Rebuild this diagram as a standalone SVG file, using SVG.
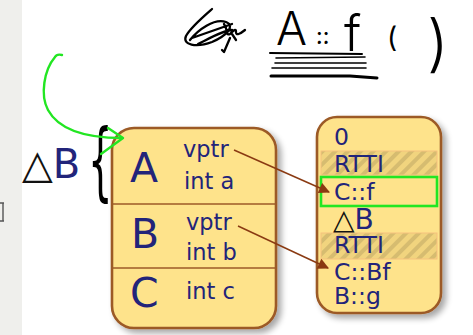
<svg xmlns="http://www.w3.org/2000/svg" width="473" height="335" viewBox="0 0 473 335">
  <defs>
    <style>
      .box { fill: #fee38b; stroke: #9c5a26; stroke-width: 2.6; }
      .div { stroke: #9c5a26; stroke-width: 1.6; }
      .lbl { font-family: "DejaVu Sans", sans-serif; fill: #22247a; }
      .big { font-size: 41px; }
      .fld { font-size: 22.5px; }
      .vt  { font-size: 23.5px; }
      .hand { font-family: "Inter", "Lato", "Liberation Sans", sans-serif; font-weight: 300; fill: #000; }
      .ink { fill: none; stroke: #000; stroke-linecap: round; stroke-linejoin: round; }
      .pen { fill: none; stroke: #22e622; stroke-width: 2.4; stroke-linecap: round; stroke-linejoin: round; }
      .ptr { fill: none; stroke: #8a3a12; stroke-width: 1.5; }
    </style>
    <filter id="shadow" x="-20%" y="-20%" width="140%" height="140%">
      <feGaussianBlur in="SourceAlpha" stdDeviation="3"/>
      <feOffset dx="4" dy="4" result="b"/>
      <feComponentTransfer><feFuncA type="linear" slope="0.35"/></feComponentTransfer>
      <feMerge><feMergeNode/><feMergeNode in="SourceGraphic"/></feMerge>
    </filter>
    <pattern id="hatch" width="9" height="9" patternUnits="userSpaceOnUse" patternTransform="rotate(45)">
      <rect width="9" height="9" fill="#f1d47e"/>
      <rect width="4" height="9" fill="#d6bc70"/>
    </pattern>
    <marker id="arr" viewBox="0 0 10 10" refX="9" refY="5" markerWidth="14" markerHeight="11" orient="auto" markerUnits="userSpaceOnUse">
      <path d="M0,0 L10,5 L0,10 z" fill="#8a3a12"/>
    </marker>
  </defs>

  <rect width="473" height="335" fill="#fff"/>
  <!-- side panel strip with a clipped mark at its edge -->
  <rect x="0" y="0" width="22" height="335" fill="#efefec"/>
  <path d="M0,203 L4,203 M3,203 L3,221 M0,221 L4,221" stroke="#555" stroke-width="1.4" fill="none"/>

  <!-- handwritten annotation -->
  <g id="note">
    <path class="ink" stroke-width="2.3" d="M212,9 C204,16 190,28 186,36 C182,45 196,48 212,42 C226,36 236,26 226,22 C214,18 198,30 190,40 M192,38 L232,24 M198,44 C210,38 224,30 232,30 M224,24 C228,30 226,36 230,34 C234,30 236,28 236,32 C236,36 240,34 245,30 M232,34 L236,40 M230,38 L224,52 L222,50"/>
    <text class="hand">
      <tspan x="276" y="45" font-size="46">A</tspan>
      <tspan x="316" y="44" font-size="22" font-weight="500">::</tspan>
      <tspan x="344" y="51" font-size="50">f</tspan>
      <tspan x="387" y="47" font-size="28" font-weight="400">(</tspan>
      <tspan x="427" y="65" font-size="62">)</tspan>
    </text>
    <path class="ink" stroke-width="2" d="M270,53 L362,54"/>
    <path class="ink" stroke-width="1.6" d="M276,58 L365,57 M275,63 L366,63 M272,68 L366,68"/>
    <path class="ink" stroke-width="3" d="M271,76 L350,76 L377,78"/>
  </g>

  <!-- object layout -->
  <g id="object" filter="url(#shadow)">
    <rect class="box" x="112" y="128" width="164" height="200" rx="22"/>
    <line class="div" x1="113" y1="204" x2="275" y2="204"/>
    <line class="div" x1="113" y1="268" x2="275" y2="268"/>
  </g>
  <g id="obj-text" class="lbl">
    <text class="big" x="130" y="182">A</text>
    <text class="fld" x="183" y="157">vptr</text>
    <text class="fld" x="184" y="189">int a</text>
    <text class="big" x="131" y="248">B</text>
    <text class="fld" x="186" y="230">vptr</text>
    <text class="fld" x="186" y="260">int b</text>
    <text class="big" x="130" y="307">C</text>
    <text class="fld" x="186" y="299">int c</text>
  </g>

  <!-- delta label with brace -->
  <g id="delta">
    <text x="22" y="178" font-family="DejaVu Sans, sans-serif" font-size="40"><tspan fill="#111">△</tspan><tspan fill="#22247a">B</tspan></text>
    <text transform="translate(88,190) scale(0.45,1)" font-family="DejaVu Sans, sans-serif" font-size="86" fill="#000">{</text>
  </g>

  <!-- vtable -->
  <g id="vtable" filter="url(#shadow)">
    <rect class="box" x="317" y="117" width="124" height="196" rx="20"/>
  </g>
  <g id="vtable-rows">
    <rect x="321" y="151" width="116" height="24" fill="url(#hatch)" stroke="#f6c27e" stroke-width="1"/>
    <rect x="321" y="233" width="116" height="26" fill="url(#hatch)" stroke="#f6c27e" stroke-width="1"/>
    <g class="lbl vt">
      <text x="334" y="145">0</text>
      <text x="334" y="172">RTTI</text>
      <text x="334" y="200">C::f</text>
      <text x="333" y="229" font-size="28"><tspan fill="#111">△</tspan>B</text>
      <text x="334" y="253">RTTI</text>
      <text x="334" y="280">C::Bf</text>
      <text x="334" y="304">B::g</text>
    </g>
    <rect x="321" y="177" width="116" height="29" fill="none" stroke="#22e622" stroke-width="2.6"/>
  </g>

  <!-- connectors -->
  <g id="connectors">
    <path class="ptr" d="M234,150 L329,192" marker-end="url(#arr)"/>
    <path class="ptr" d="M238,226 L328,268" marker-end="url(#arr)"/>
    <path class="pen" d="M62,55 C58,54 56,55 55,57 C44,70 40,95 48,110 C60,132 90,138 122,138"/>
    <path class="pen" d="M108,128 L123,138 L101,154"/>
  </g>
</svg>
